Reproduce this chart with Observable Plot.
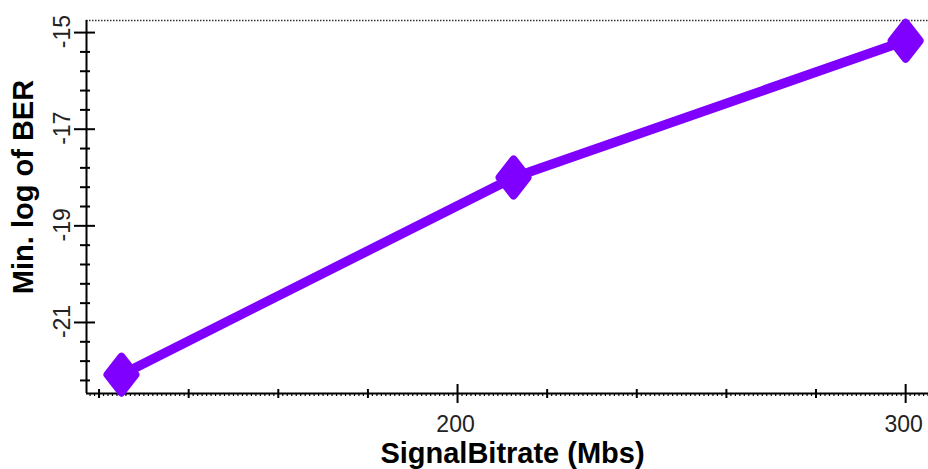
<!DOCTYPE html>
<html>
<head>
<meta charset="utf-8">
<script src="https://cdn.jsdelivr.net/npm/d3@7"></script>
<script src="https://cdn.jsdelivr.net/npm/@observablehq/plot@0.6"></script>
<style>
  html, body { margin: 0; padding: 0; background: #fff; }
  svg { display: block; }
</style>
</head>
<body>
<div id="chart"></div>
<script>
// Data
const bitrates = [125, 212.5, 300];
const minLogBER = [-22.08, -18.0, -15.17];
const xTickLabels = [200, 300];
const yTickLabels = [-15, -17, -19, -21];
const xTitle = "SignalBitrate (Mbs)";
const yTitle = "Min. log of BER";

const xDomain = [117.2, 305.1];
const yDomain = [-22.47, -14.75];

const data = bitrates.map((x, i) => ({x, y: minLogBER[i]}));

const W = 928, H = 469;
const mL = 86, mR = 0, mT = 20, mB = 76;
const plotW = W - mL - mR, plotH = H - mT - mB;

const xMedium = d3.range(120, 301, 20).filter(v => !xTickLabels.includes(v));
const xMinor = d3.range(118, 306, 1).filter(v => v % 20 !== 0);
const yMinor = d3.range(-15, -22.45, -0.4).map(v => +v.toFixed(2)).filter(v => !yTickLabels.includes(v));

const purple = "#7f00ff";

const tallDiamond = {
  draw(ctx, size) {
    const r = Math.sqrt(size / Math.PI);
    const w = r * 0.78, h = r;
    ctx.moveTo(0, -h);
    ctx.lineTo(w, 0);
    ctx.lineTo(0, h);
    ctx.lineTo(-w, 0);
    ctx.closePath();
  }
};

const chart = Plot.plot({
  width: W,
  height: H,
  marginLeft: mL,
  marginRight: mR,
  marginTop: mT,
  marginBottom: mB,
  x: {domain: xDomain, axis: null},
  y: {domain: yDomain, axis: null},
  style: {fontFamily: "'Liberation Sans', Arial, sans-serif", background: "#fff"},
  marks: [
    // top dotted border
    Plot.ruleY([yDomain[1]], {stroke: "#333", strokeWidth: 1.5, strokeDasharray: "1.5,1.5"}),
    // axis lines
    Plot.ruleX([xDomain[0]], {stroke: "#000", strokeWidth: 2}),
    Plot.ruleY([yDomain[0]], {stroke: "#000", strokeWidth: 2}),
    // y ticks
    Plot.tickY(yTickLabels, {y: d => d, insetLeft: -12, insetRight: plotW - 9, stroke: "#000", strokeWidth: 2}),
    Plot.tickY(yMinor, {y: d => d, insetLeft: -6, insetRight: plotW - 4, stroke: "#000", strokeWidth: 2}),
    // x ticks
    Plot.tickX(xTickLabels, {x: d => d, insetTop: plotH - 9, insetBottom: -10, stroke: "#000", strokeWidth: 2}),
    Plot.tickX(xMedium, {x: d => d, insetTop: plotH - 4, insetBottom: -5, stroke: "#000", strokeWidth: 2}),
    Plot.tickX(xMinor, {x: d => d, insetTop: plotH, insetBottom: -3, stroke: "#000", strokeWidth: 1.2}),
    // tick labels
    Plot.text(yTickLabels, {y: d => d, text: d => String(d), frameAnchor: "left", dx: -23.5, dy: -1, rotate: -90,
      textAnchor: "middle", lineAnchor: "middle", fontSize: 23, fill: "#222"}),
    Plot.text(xTickLabels, {x: d => d, text: d => String(d), frameAnchor: "bottom", dx: -2, dy: 31,
      textAnchor: "middle", lineAnchor: "middle", fontSize: 23, fill: "#222"}),
    // titles
    Plot.text([yTitle], {text: d => d, frameAnchor: "left", dx: -63, dy: -20, rotate: -90,
      textAnchor: "middle", lineAnchor: "middle", fontSize: 29, fontWeight: "bold", fill: "#000"}),
    Plot.text([xTitle], {text: d => d, frameAnchor: "bottom", dx: 5, dy: 60,
      textAnchor: "middle", lineAnchor: "middle", fontSize: 29, fontWeight: "bold", fill: "#000"}),
    // series
    Plot.line(data, {x: "x", y: "y", stroke: purple, strokeWidth: 9.5, strokeLinejoin: "round"}),
    Plot.dot(data, {x: "x", y: "y", symbol: tallDiamond, r: 18, fill: purple, stroke: purple,
      strokeWidth: 8, strokeLinejoin: "round"})
  ]
});

document.getElementById("chart").appendChild(chart);
</script>
</body>
</html>
